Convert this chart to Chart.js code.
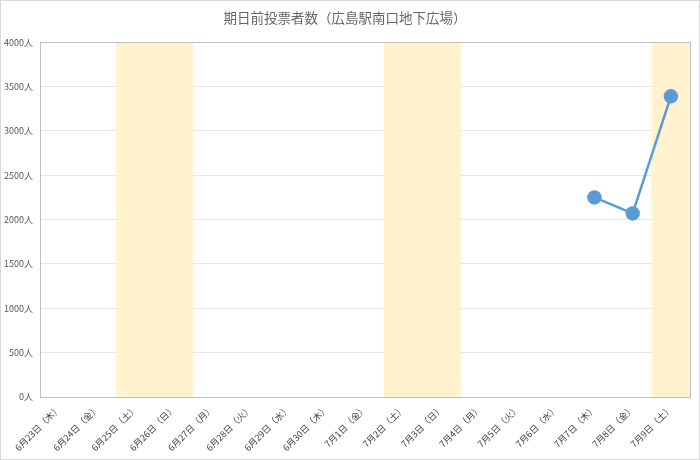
<!DOCTYPE html>
<html>
<head>
<meta charset="utf-8">
<script src="https://cdn.jsdelivr.net/npm/chart.js@4.4.0/dist/chart.umd.min.js"></script>
<style>
  html, body { margin: 0; padding: 0; background: #fff; }
  #wrap { width: 700px; height: 460px; }
</style>
</head>
<body>
<div id="wrap"><canvas id="myChart" width="700" height="460"></canvas></div>
<script>
// データ
const days = ['6月23日（木）', '6月24日（金）', '6月25日（土）', '6月26日（日）', '6月27日（月）',
    '6月28日（火）', '6月29日（水）', '6月30日（木）', '7月1日（金）', '7月2日（土）', '7月3日（日）',
    '7月4日（月）', '7月5日（火）', '7月6日（水）', '7月7日（木）', '7月8日（金）', '7月9日（土）'];
const voters = [null, null, null, null, null, null, null, null, null, null, null,
    null, null, null, 2250, 2070, 3390];
// 土日の帯
const weekend = [null, null, 4000, 4000, null, null, null, null, null, 4000, 4000,
    null, null, null, null, null, 4000];
const yMax = 4000;
const yStep = 500;

const font = "'Noto Sans CJK JP', 'Noto Sans', sans-serif";

// 外枠とプロット枠
const frame = {
    id: 'frame',
    beforeDraw(chart) {
        const c = chart.ctx;
        c.save();
        c.fillStyle = '#ffffff';
        c.fillRect(0, 0, chart.width, chart.height);
        c.strokeStyle = '#d9d9d9';
        c.lineWidth = 1;
        c.strokeRect(0.5, 0.5, chart.width - 1, chart.height - 1);
        c.restore();
    },
    afterDatasetsDraw(chart) {
        const a = chart.chartArea;
        const c = chart.ctx;
        c.save();
        c.strokeStyle = '#bfbfbf';
        c.lineWidth = 1;
        c.strokeRect(Math.round(a.left) + 0.5, Math.round(a.top) + 0.5,
            Math.round(a.right - a.left), Math.round(a.bottom - a.top));
        c.restore();
    }
};

new Chart(document.getElementById('myChart'), {
    type: 'bar',
    data: {
        labels: days,
        datasets: [
            {
                type: 'line',
                label: '期日前投票者数',
                data: voters,
                borderColor: '#5b9bd5',
                backgroundColor: '#5b9bd5',
                borderWidth: 2.5,
                pointRadius: 6,
                pointHoverRadius: 6,
                fill: false,
                order: 1
            },
            {
                label: '土日',
                data: weekend,
                backgroundColor: '#fff2cc',
                barPercentage: 1,
                categoryPercentage: 1,
                order: 2
            }
        ]
    },
    options: {
        responsive: false,
        animation: false,
        layout: { padding: { left: 0, right: 10, top: 0, bottom: 0 } },
        plugins: {
            legend: { display: false },
            tooltip: { enabled: false },
            title: {
                display: true,
                text: '期日前投票者数（広島駅南口地下広場）',
                color: '#666666',
                font: { family: font, size: 13.5, weight: 'normal' },
                padding: { top: 10, bottom: 16 }
            }
        },
        scales: {
            x: {
                grid: { display: false, drawTicks: false },
                border: { display: false },
                ticks: {
                    color: '#404040',
                    font: { family: font, size: 9 },
                    maxRotation: 45,
                    minRotation: 45,
                    autoSkip: false,
                    padding: 6
                },
                afterFit(scale) { scale.height = 63; }
            },
            y: {
                min: 0,
                max: yMax,
                grid: { color: '#e6e6e6', drawTicks: false },
                border: { display: false },
                ticks: {
                    stepSize: yStep,
                    color: '#595959',
                    font: { family: font, size: 9 },
                    padding: 7,
                    callback: v => v + '人'
                },
                afterFit(scale) { scale.width = 40; }
            }
        }
    },
    plugins: [frame]
});
</script>
</body>
</html>
